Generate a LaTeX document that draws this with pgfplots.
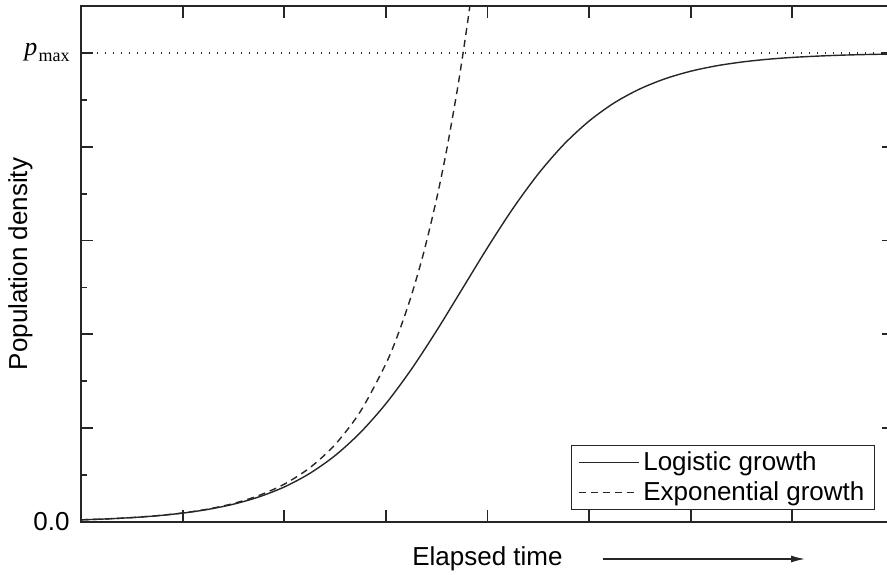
\documentclass[border=0pt]{standalone}
\usepackage{fontspec}
\setmainfont{Liberation Sans}
\newfontfamily\tnr{Liberation Serif}
\usepackage{pgfplots}
\pgfplotsset{compat=1.18}
\usetikzlibrary{arrows.meta}

\newcommand\labelfont{\fontsize{13}{15.6}\selectfont}

% Logistic growth p(t) = 1/(1+(1/p0-1)e^{-rt}), sampled values (in units of p_max)
\pgfplotstableread{
t     p
0.00  0.00460
0.25  0.00657
0.50  0.00936
0.75  0.01333
1.00  0.01894
1.25  0.02688
1.50  0.03798
1.75  0.05345
2.00  0.07468
2.25  0.1035
2.50  0.1416
2.75  0.1909
3.00  0.2522
3.25  0.3253
3.50  0.4081
3.75  0.4964
4.00  0.5849
4.25  0.6683
4.50  0.7423
4.75  0.8047
5.00  0.8548
5.25  0.8939
5.50  0.9233
5.75  0.9451
6.00  0.9610
6.25  0.9724
6.50  0.9805
6.75  0.9863
7.00  0.9904
7.25  0.9932
7.50  0.9953
7.75  0.9967
8.00  0.9976
}\logistic

% Unbounded exponential growth from the same starting density
\pgfplotstableread{
t     p
0.00  0.00462
0.25  0.00661
0.50  0.00944
0.75  0.01351
1.00  0.01931
1.25  0.02762
1.50  0.03948
1.75  0.05646
2.00  0.0807
2.25  0.1154
2.50  0.1650
2.75  0.2359
3.00  0.3373
3.125 0.4033
3.25  0.4822
3.375 0.5766
3.50  0.6897
3.60  0.7955
3.70  0.9178
3.75  0.9858
3.80  1.0589
3.85  1.137
}\exponential

\begin{document}
\begin{tikzpicture}
\path[use as bounding box] (-40.5pt,-26pt) rectangle (403pt,261pt);
\begin{axis}[
  at={(0pt,0pt)}, anchor=south west,
  scale only axis, width=406.5pt, height=258pt,
  xmin=0, xmax=8, ymin=0, ymax=1.1,
  axis line style={line width=0.9pt, black!85},
  tick align=inside,
  major tick length=6pt, minor tick length=3pt,
  tick style={line width=0.9pt, black!85},
  xtick={1,2,...,7}, xticklabels={},
  ytick={0,0.2,0.4,0.6,0.8,1.0},
  yticklabels={0.0,,,,,{\tnr\itshape p\kern0.6pt\raisebox{-0.5ex}{\upshape\fontsize{9}{9}\selectfont max}}},
  minor ytick={0.1,0.3,0.5,0.7,0.9},
  yticklabel style={font=\labelfont, inner sep=0pt, anchor=east, xshift=-5.5pt},
  xlabel={Elapsed time},
  xlabel style={font=\labelfont, at={(axis description cs:0.5,0)}, anchor=base, yshift=-21.8pt, inner sep=0pt},
  ylabel={Population density},
  ylabel style={font=\labelfont, at={(axis description cs:-0.059,0.5)}, anchor=south, inner sep=0pt},
  legend style={font=\labelfont, at={(rel axis cs:0.9766,0.0233)}, anchor=south east,
    draw=black!85, line width=0.5pt, inner xsep=3pt, inner ysep=1pt, cells={anchor=west}},
  legend image code/.code={\draw[#1] (0pt,0pt) -- (30pt,0pt);},
]
\addplot[black!85, line width=0.7pt, smooth] table[x=t, y=p] {\logistic};
\addlegendentry{Logistic growth}
\addplot[black!85, line width=0.7pt, dash pattern=on 3.5pt off 2.5pt, smooth] table[x=t, y=p] {\exponential};
\addlegendentry{Exponential growth}
% carrying capacity
\addplot[black!85, line width=0.6pt, dash pattern=on 0.6pt off 3.4pt, forget plot] coordinates {(0,1) (8,1)};
\end{axis}
\draw[black!85, line width=0.7pt, -{Latex[length=7pt,width=3.5pt]}] (261pt,-18.5pt) -- (362pt,-18.5pt);
\end{tikzpicture}
\end{document}
